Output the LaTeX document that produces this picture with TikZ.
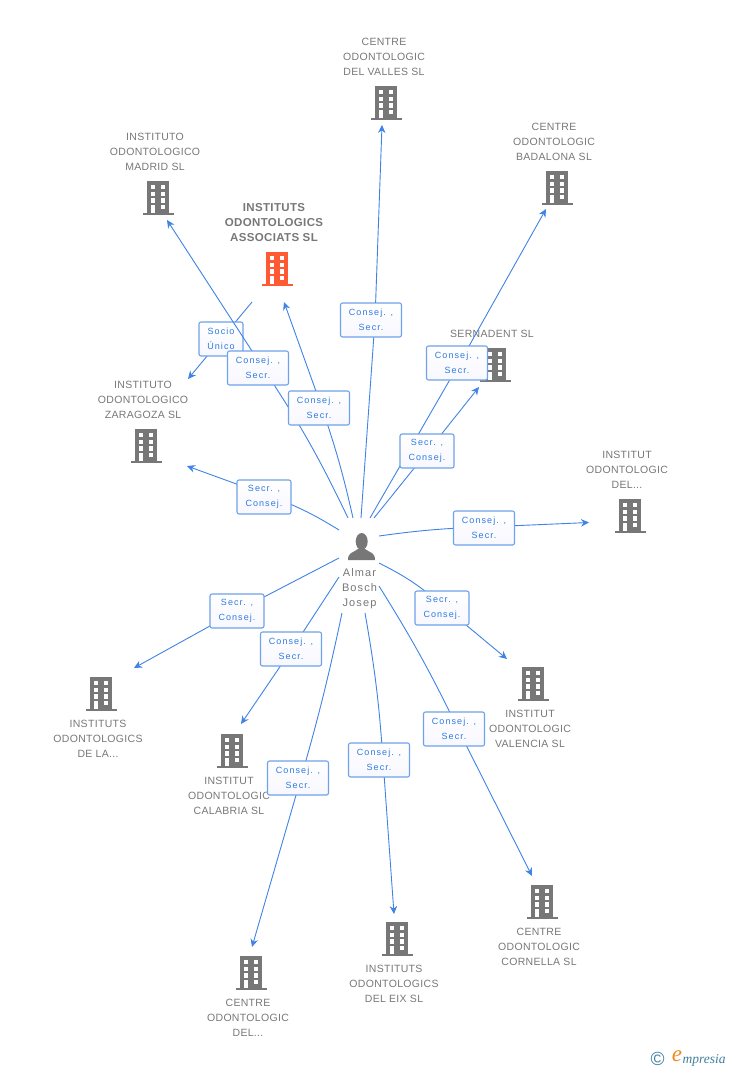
\documentclass[tikz,border=0pt]{standalone}
\usepackage{fontspec}
\usepackage{tikz}
\usetikzlibrary{arrows.meta,positioning}
\setmainfont{Liberation Sans}
\newfontfamily\firmfont[LetterSpace=3]{Liberation Sans}
\newfontfamily\tagfont[LetterSpace=12]{Liberation Sans}
\newfontfamily\whofont[LetterSpace=10]{Liberation Sans}
\newfontfamily\logofont{Liberation Serif}
\definecolor{linkblue}{HTML}{3F83E4}
\definecolor{tagedge}{HTML}{6FA2E8}
\definecolor{tagtext}{HTML}{2F7BE0}
\definecolor{firmgrey}{HTML}{777777}
\definecolor{firmred}{HTML}{FF5A33}
\definecolor{logoteal}{HTML}{3F7F9C}
\definecolor{logoorange}{HTML}{F08A1D}

\tikzset{
    bldg/.pic={
        \fill[pic actions] (-11,-17) rectangle (11,15);
        \fill[pic actions] (-15.5,14.7) rectangle (15.5,16.8);
        \foreach \wy in {-13,-6.3,0.3} {
            \fill[white] (-7.3,\wy) rectangle (-2.8,\wy+4.4);
            \fill[white] (2.5,\wy) rectangle (7,\wy+4.4);
        }
        \fill[white] (2.5,7) rectangle (7,11);
        \fill[white] (-7.3,7) rectangle (-2.8,14.7);
    }
}

\begin{document}
\begin{tikzpicture}[
    x=1pt, y=-1pt,
    firm/.style={text=firmgrey, align=center, inner sep=0pt, font=\fontsize{10.5}{15}\selectfont\firmfont},
    tag/.style={draw=tagedge, line width=1.1pt, rounded corners=2pt, top color=white, bottom color=blue!3,
        text=tagtext, align=center, inner sep=0pt, minimum width=61pt, minimum height=34pt,
        font=\fontsize{9}{15}\selectfont\tagfont, execute at begin node={\rule{0pt}{13pt}}},
    link/.style={draw=linkblue, line width=.9pt, -{Stealth[length=8pt,width=7.5pt]}}
]
    \useasboundingbox (0,0) rectangle (728,1070);

    % companies
    \coordinate (valles) at (386,103);
    \coordinate (madrid) at (158,198);
    \coordinate (assoc) at (277,269);
    \coordinate (badalona) at (557,188);
    \coordinate (sernadent) at (495,365);
    \coordinate (zaragoza) at (146,446);
    \coordinate (delright) at (630,516);
    \coordinate (dela) at (101,694);
    \coordinate (calabria) at (232,751);
    \coordinate (valencia) at (533,684);
    \coordinate (cornella) at (542,902);
    \coordinate (eix) at (397,939);
    \coordinate (delbottom) at (251,973);

    \pic[firmgrey] at (valles) {bldg};
    \pic[firmgrey] at (madrid) {bldg};
    \pic[firmred] at (assoc) {bldg};
    \pic[firmgrey] at (badalona) {bldg};
    \pic[firmgrey] at (sernadent) {bldg};
    \pic[firmgrey] at (zaragoza) {bldg};
    \pic[firmgrey] at (delright) {bldg};
    \pic[firmgrey] at (dela) {bldg};
    \pic[firmgrey] at (calabria) {bldg};
    \pic[firmgrey] at (valencia) {bldg};
    \pic[firmgrey] at (cornella) {bldg};
    \pic[firmgrey] at (eix) {bldg};
    \pic[firmgrey] at (delbottom) {bldg};

    \node[firm, above=27pt of valles, xshift=-2pt] (vallesname) {CENTRE\\ODONTOLOGIC\\DEL VALLES SL};
    \node[firm, above=27pt of madrid, xshift=-3pt] (madridname) {INSTITUTO\\ODONTOLOGICO\\MADRID SL};
    \node[firm, above=27pt of assoc, xshift=-3pt, font=\fontsize{11.5}{15}\selectfont\firmfont\bfseries] (assocname) {INSTITUTS\\ODONTOLOGICS\\ASSOCIATS SL};
    \node[firm, above=27pt of badalona, xshift=-3pt] (badalonaname) {CENTRE\\ODONTOLOGIC\\BADALONA SL};
    \node[firm, above=27pt of sernadent, xshift=-3pt] (sernadentname) {SERNADENT SL};
    \node[firm, above=27pt of zaragoza, xshift=-3pt] (zaragozaname) {INSTITUTO\\ODONTOLOGICO\\ZARAGOZA SL};
    \node[firm, above=27pt of delright, xshift=-3pt] (delrightname) {INSTITUT\\ODONTOLOGIC\\DEL...};
    \node[firm, below=26pt of dela, xshift=-3pt] (delaname) {INSTITUTS\\ODONTOLOGICS\\DE LA...};
    \node[firm, below=26pt of calabria, xshift=-3pt] (calabrianame) {INSTITUT\\ODONTOLOGIC\\CALABRIA SL};
    \node[firm, below=26pt of valencia, xshift=-3pt] (valencianame) {INSTITUT\\ODONTOLOGIC\\VALENCIA SL};
    \node[firm, below=26pt of cornella, xshift=-3pt] (cornellaname) {CENTRE\\ODONTOLOGIC\\CORNELLA SL};
    \node[firm, below=26pt of eix, xshift=-3pt] (eixname) {INSTITUTS\\ODONTOLOGICS\\DEL EIX SL};
    \node[firm, below=26pt of delbottom, xshift=-3pt] (delbottomname) {CENTRE\\ODONTOLOGIC\\DEL...};

    % person
    \fill[firmgrey] (361.7,541.5) ellipse (6 and 8.5);
    \fill[firmgrey] (348,560) .. controls (348,552) and (353,553) .. (358,549) -- (365,549)
        .. controls (370,553) and (375,552) .. (375,560) -- cycle;
    \node[firm, font=\fontsize{11}{15}\selectfont\whofont] (almar) at (359.5,589) {Almar\\Bosch\\Josep};

    % free ends
    \coordinate (s0) at (252,302); \coordinate (e0) at (188,379);
    \coordinate (s1) at (361,518); \coordinate (c1) at (375,320); \coordinate (e1) at (382,125);
    \coordinate (s2) at (348,518); \coordinate (c2) at (263,368); \coordinate (e2) at (167,220);
    \coordinate (s3) at (353,518); \coordinate (c3) at (322,408); \coordinate (e3) at (284,302);
    \coordinate (s4) at (370,518); \coordinate (c4) at (459.5,363); \coordinate (e4) at (546,209);
    \coordinate (s5) at (374,518); \coordinate (c5) at (428,451); \coordinate (e5) at (479,387);
    \coordinate (s6) at (379,536); \coordinate (c6) at (484.5,527); \coordinate (e6) at (589,522.5);
    \coordinate (s7) at (339,530); \coordinate (c7) at (264,494); \coordinate (e7) at (187,466);
    \coordinate (s8) at (339,558); \coordinate (c8) at (237,611); \coordinate (e8) at (134,668);
    \coordinate (s9) at (339,577); \coordinate (c9) at (292,649); \coordinate (e9) at (241,724);
    \coordinate (s10) at (342,613); \coordinate (c10) at (301,778); \coordinate (e10) at (252,947);
    \coordinate (s11) at (365,613); \coordinate (c11) at (383,760); \coordinate (e11) at (394,914);
    \coordinate (s12) at (379,586); \coordinate (c12) at (458,729); \coordinate (e12) at (532,876);
    \coordinate (s13) at (379,563); \coordinate (c13) at (442,605); \coordinate (e13) at (507,659);

    % roles
    \draw[link] (s0) -- (e0);
    \node[tag, minimum width=44pt] (socio) at (221,339) {Socio\\Único};
    \draw[link] (s2) to[bend right=4] (c2) -- (e2);
    \node[tag] (t2) at (258,368) {Consej. ,\\Secr.};
    \draw[link] (s3) to[bend right=3] (c3) -- (e3);
    \node[tag] (t3) at (319,408) {Consej. ,\\Secr.};
    \draw[link] (s1) -- (c1) -- (e1);
    \node[tag] (t1) at (371,320) {Consej. ,\\Secr.};
    \draw[link] (s5) -- (c5) -- (e5);
    \draw[link] (s4) -- (c4) -- (e4);
    \node[tag] (t4) at (457,363) {Consej. ,\\Secr.};
    \node[tag, minimum width=54pt] (t5) at (427,451) {Secr. ,\\Consej.};
    \draw[link] (s6) to[bend left=3] (c6) -- (e6);
    \node[tag] (t6) at (484,528) {Consej. ,\\Secr.};
    \draw[link] (s7) to[bend right=6] (c7) -- (e7);
    \node[tag, minimum width=54pt] (t7) at (264,497) {Secr. ,\\Consej.};
    \draw[link] (s8) -- (c8) -- (e8);
    \node[tag, minimum width=54pt] (t8) at (237,611) {Secr. ,\\Consej.};
    \draw[link] (s9) -- (c9) -- (e9);
    \node[tag] (t9) at (291,649) {Consej. ,\\Secr.};
    \draw[link] (s10) to[bend left=2] (c10) -- (e10);
    \node[tag] (t10) at (298,778) {Consej. ,\\Secr.};
    \draw[link] (s11) to[bend left=3] (c11) -- (e11);
    \node[tag] (t11) at (379,760) {Consej. ,\\Secr.};
    \draw[link] (s12) to[bend left=3] (c12) -- (e12);
    \node[tag] (t12) at (454,729) {Consej. ,\\Secr.};
    \draw[link] (s13) to[bend left=7] (c13) -- (e13);
    \node[tag, minimum width=54pt] (t13) at (442,608) {Secr. ,\\Consej.};

    % logo
    \node[text=logoteal, inner sep=0pt, font=\fontsize{19}{19}\selectfont] (copyr) at (657.5,1059) {\char"00A9};
    \node[text=logoorange, inner sep=0pt, font=\fontsize{23}{23}\selectfont\logofont\itshape] (logoe) at (677,1056) {e};
    \node[text=logoteal, inner sep=0pt, anchor=west, font=\fontsize{13.5}{13.5}\selectfont\logofont\itshape] (logotext) at (682.5,1060) {mpresia};
\end{tikzpicture}
\end{document}
